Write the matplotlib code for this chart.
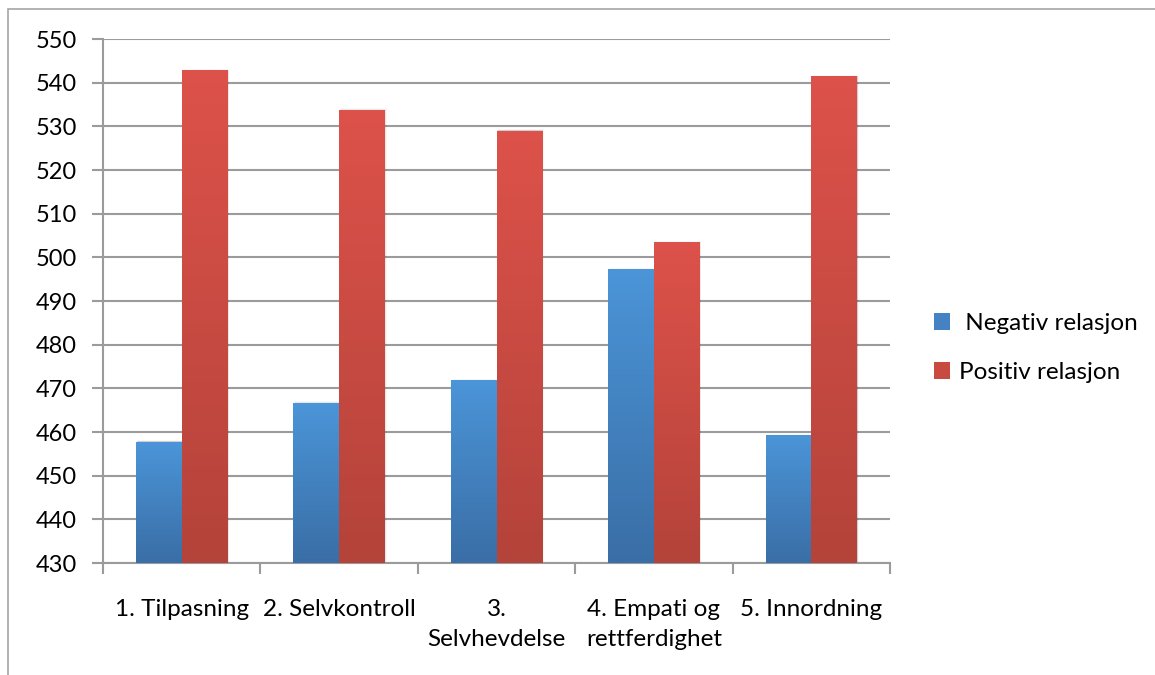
import numpy as np
import matplotlib
matplotlib.use("Agg")
import matplotlib.pyplot as plt
from matplotlib.colors import LinearSegmentedColormap, to_rgb
from matplotlib.patches import Rectangle, Patch

categories = ["1. Tilpasning", "2. Selvkontroll", "3.\nSelvhevdelse",
              "4. Empati og\nrettferdighet", "5. Innordning"]
negativ = [457.7, 466.6, 471.7, 497.1, 459.1]
positiv = [542.7, 533.7, 528.9, 503.3, 541.3]
series_names = [" Negativ relasjon", "Positiv relasjon"]
y_ticks = list(range(430, 551, 10))

plt.rcParams['font.family'] = ['Lato', 'DejaVu Sans']

fig = plt.figure(figsize=(11.55, 6.75), dpi=100)
ax = fig.add_axes([103 / 1155, 1 - 563 / 675, 787 / 1155, 524 / 675])

# Chart-area border (runs off the right and bottom edges)
fig.patches.append(Rectangle((8 / 1155, -0.05), 1.2, 1 - 9 / 675 + 0.05,
                             transform=fig.transFigure, fill=False,
                             edgecolor="#a6a6a6", linewidth=1.2))

ymin, ymax = 430, 550
ax.set_xlim(0, len(categories))
ax.set_ylim(ymin, ymax)

grad_blue = ("#4b95d8", "#3a6ea6")
grad_red = ("#dd524a", "#b4433a")
width = 0.29


def gradient_bar(x0, top, colors):
    cmap = LinearSegmentedColormap.from_list("g", [to_rgb(colors[1]), to_rgb(colors[0])])
    grad = np.linspace(0, 1, 256).reshape(-1, 1)
    # soft shadow on the right
    for k, a in enumerate([0.10, 0.06, 0.03]):
        ax.add_patch(Rectangle((x0 + 0.004 * (k + 1), ymin), width, top - ymin + 0.15 * (k + 1),
                               facecolor="black", alpha=a, edgecolor="none", zorder=2.5))
    ax.imshow(grad, extent=(x0, x0 + width, ymin, top), origin="lower",
              aspect="auto", cmap=cmap, zorder=3, interpolation="bilinear")


for i, (n, p) in enumerate(zip(negativ, positiv)):
    c = i + 0.5
    gradient_bar(c - width, n, grad_blue)
    gradient_bar(c, p, grad_red)

ax.set_xlim(0, len(categories))
ax.set_ylim(ymin, ymax)

ax.set_yticks(y_ticks)
ax.set_yticklabels([str(t) for t in y_ticks], fontsize=17)
ax.yaxis.grid(True, color="#9b9b9b", linewidth=1.5, zorder=1)
ax.set_axisbelow(True)

ax.set_xticks(range(len(categories) + 1))
ax.set_xticklabels([])
ax.set_xticks([i + 0.5 for i in range(len(categories))], minor=True)
ax.set_xticklabels(categories, minor=True, fontsize=17.5, linespacing=1.5,
                   va="top", ha="center")
ax.tick_params(axis="x", which="minor", length=0, pad=26)
ax.tick_params(axis="x", which="major", length=8, width=1.5, color="#9b9b9b", direction="out")
ax.tick_params(axis="y", length=8, width=1.5, color="#9b9b9b", pad=11)

for s in ["top", "right"]:
    ax.spines[s].set_visible(False)
for s in ["left", "bottom"]:
    ax.spines[s].set_color("#9b9b9b")
    ax.spines[s].set_linewidth(1.5)

handles = [Patch(facecolor="#4482c4", edgecolor="none"),
           Patch(facecolor="#c94a41", edgecolor="none")]
fig.legend(handles, series_names, loc="center left",
           bbox_to_anchor=(912 / 1155, 1 - 348 / 675), frameon=False,
           fontsize=17.5, handlelength=0.68, handleheight=0.68,
           handletextpad=0.35, labelspacing=1.15)

fig.savefig("out.png", dpi=100)
